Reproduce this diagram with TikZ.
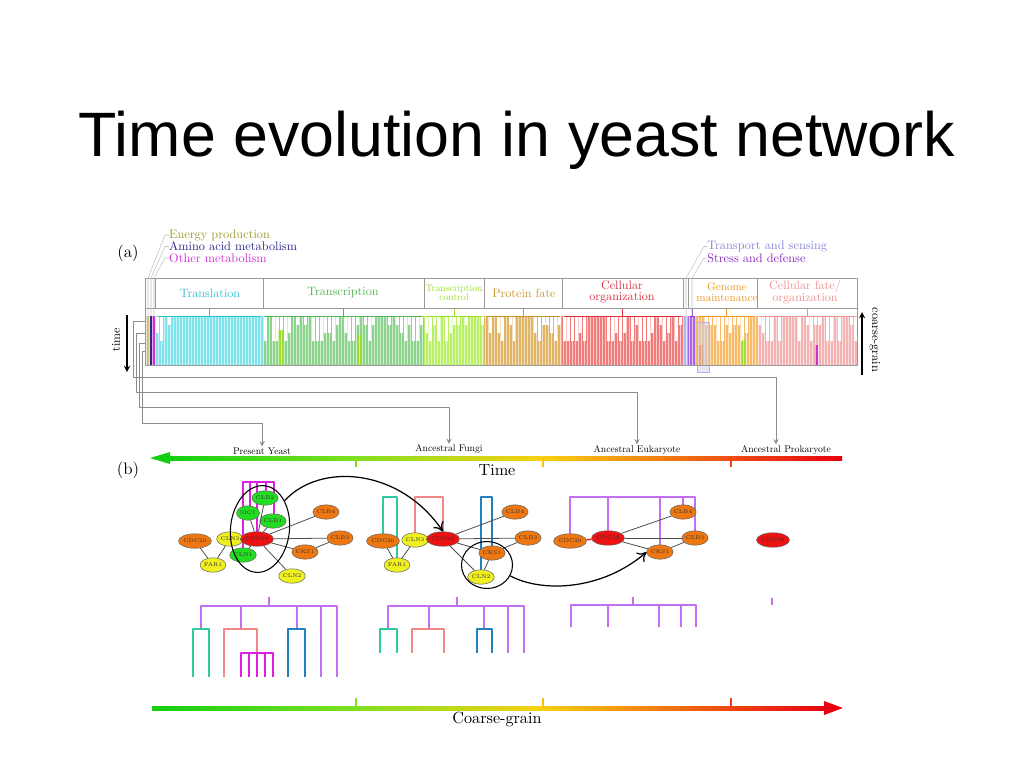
\documentclass[tikz,border=0pt]{standalone}
\usepackage{fontspec}
\newfontfamily\titlefont{Liberation Sans}
\usetikzlibrary{shapes.geometric,arrows.meta}
% category colours
\definecolor{cEnergy}{HTML}{A09830}
\definecolor{cAmino}{HTML}{282888}
\definecolor{cOther}{HTML}{D030D0}
\definecolor{cTransl}{HTML}{30C0D0}
\definecolor{cTranscr}{HTML}{50B450}
\definecolor{cTcontrol}{HTML}{98DC30}
\definecolor{cPfate}{HTML}{C89830}
\definecolor{cCellorg}{HTML}{D83040}
\definecolor{cGenome}{HTML}{EC9820}
\definecolor{cCellfate}{HTML}{EC9090}
\definecolor{cTransport}{HTML}{8484DC}
\definecolor{cStress}{HTML}{8828C0}
% bar colours
\definecolor{bEnergy}{HTML}{D0C080}
\definecolor{bTransl}{HTML}{80E4EC}
\definecolor{bTranscr}{HTML}{8CD48C}
\definecolor{bTcontrol}{HTML}{B8F064}
\definecolor{bPfate}{HTML}{E0B464}
\definecolor{bCellorg}{HTML}{F27C7C}
\definecolor{bGenome}{HTML}{F8BC68}
\definecolor{bCellfate}{HTML}{F4B4B4}
\definecolor{bTransport}{HTML}{B0B8F4}
\definecolor{bStress}{HTML}{A868E8}
% network and tree colours
\definecolor{nGreen}{HTML}{22DD22}
\definecolor{nRed}{HTML}{EE1111}
\definecolor{nOrange}{HTML}{EE7711}
\definecolor{nYellow}{HTML}{F0F020}
\definecolor{dPurple}{HTML}{C070F0}
\definecolor{dTeal}{HTML}{30C8A0}
\definecolor{dPink}{HTML}{F08888}
\definecolor{dBlue}{HTML}{2080C0}
\definecolor{dMagenta}{HTML}{E020E0}
% axis colours
\definecolor{aGreen}{HTML}{10D010}
\definecolor{aLime}{HTML}{80E020}
\definecolor{aYellow}{HTML}{F8D010}
\definecolor{aOrange}{HTML}{F08020}
\definecolor{aRed}{HTML}{E80010}
\tikzset{
  gene/.style={ellipse,draw=black!60,line width=0.3pt,inner sep=0pt,minimum width=0.46cm,minimum height=0.29cm,font=\fontsize{3.1}{3.1}\selectfont,text=black!80},
  grn/.style={gene,fill=nGreen},
  redn/.style={gene,fill=nRed},
  orn/.style={gene,fill=nOrange},
  yel/.style={gene,fill=nYellow},
  link/.style={draw=black!70,line width=0.45pt},
  cut/.style={draw=black!45,line width=0.35pt},
  lead/.style={draw=black!25,line width=0.3pt},
  frame/.style={draw=black!40,line width=0.35pt},
  dend/.style={line width=0.8pt},
  tickmark/.style={line width=1.3pt},
  catlab/.style={font=\fontsize{10}{11}\selectfont,scale=0.7,anchor=west,inner sep=0pt},
  hdr/.style={font=\fontsize{10}{9.5}\selectfont,scale=0.69,align=center,inner sep=0pt},
  lab/.style={font=\fontsize{10}{11}\selectfont,scale=0.55,inner sep=1pt},
  big/.style={font=\fontsize{10}{11}\selectfont,scale=0.95}
}
\begin{document}
\begin{tikzpicture}[x=0.02cm,y=-0.02cm,line join=round,>=stealth]
\useasboundingbox (0,0) rectangle (1024,768);
\node[font=\titlefont\fontsize{35.7}{40}\selectfont,anchor=base] (title) at (517,156) {Time evolution in yeast network};

%% (a) tree of functional classes
\node[big] (pa) at (128,253) {(a)};
\node[catlab,text=cEnergy] (energy) at (169,235) {Energy production};
\node[catlab,text=cAmino] (amino) at (169,246.5) {Amino acid metabolism};
\node[catlab,text=cOther] (other) at (169,258) {Other metabolism};
\node[catlab,text=cTransport] (transp) at (707,246.5) {Transport and sensing};
\node[catlab,text=cStress] (stress) at (707,258) {Stress and defense};

\pgfmathsetseed{12}
\foreach \xa/\xb/\c/\g in {145/150/bEnergy/0,150/152/cAmino/0,152/155/cOther/0,155/178/bTransl/1,178/263/bTransl/0,
  263/424/bTranscr/1,424/484/bTcontrol/1,484/515/bPfate/1,515/533/bPfate/0,533/562/bPfate/1,562/683/bCellorg/1,
  683/688/bTransport/0,688/696/bStress/0,696/757/bGenome/1,757/857/bCellfate/1}{
  \fill[\c] (\xa,316) rectangle (\xb,365);
  \ifnum\g>0
    \pgfmathtruncatemacro\xn{\xa+4}
    \foreach \x in {\xa,\xn,...,\xb}{
      \pgfmathsetmacro\h{rnd<0.3 ? 0 : 8+int(rnd*3)*8}
      \fill[white] ({\x+1},317) rectangle ({min(\x+4,\xb)},{317+\h});
    }
  \fi
}
% a few odd columns
\fill[cTcontrol] (278,330) rectangle (283,365) (357,335) rectangle (362,365) (742,340) rectangle (745,365);
\fill[aOrange] (699,345) rectangle (703,365);
\fill[cOther] (815,345) rectangle (818,365);
\foreach \x in {146,149,...,856} \draw[white,opacity=0.6,line width=0.12pt] (\x,316) -- (\x,365);
\foreach \xa/\xb/\c in {155/263/cTransl,263/424/cTranscr,424/484/cTcontrol,484/562/cPfate,562/683/cCellorg,
  688/696/cStress,696/757/cGenome,757/857/cCellfate}{
  \draw[\c,line width=0.5pt] ({\xa+2},316) -- ({\xb-2},316);
  \draw[\c,line width=0.5pt] ({(\xa+\xb)/2},308) -- ({(\xa+\xb)/2},316);
}
\fill[cTransport!40,opacity=0.5] (697,322) rectangle (709,372);
\draw[cTransport!60,line width=0.3pt] (697,322) rectangle (709,372);

\draw[frame] (145,278) rectangle (857,365);
\draw[frame] (145,308) -- (857,308);
\foreach \x in {155,263,424,484,562,683,688,757} \draw[frame] (\x,278) -- (\x,308);

\node[hdr,text=cTransl] (hTransl) at (210,293) {Translation};
\node[hdr,text=cTranscr] (hTranscr) at (343,293) {Transcription};
\node[hdr,text=cTcontrol,scale=0.8] (hTcontrol) at (454,292.5) {Transcription\\control};
\node[hdr,text=cPfate] (hPfate) at (524,293) {Protein fate};
\node[hdr,text=cCellorg] (hCellorg) at (622,292) {Cellular\\organization};
\node[hdr,text=cGenome,scale=0.92] (hGenome) at (727,292) {Genome\\maintenance};
\node[hdr,text=cCellfate] (hCellfate) at (805,292) {Cellular fate/\\organization};

\draw[lead] (energy.west) -- ++(-4,0) -- (148,278) -- (148,316);
\draw[lead] (amino.west) -- ++(-4,0) -- (151,278) -- (151,316);
\draw[lead] (other.west) -- ++(-4,0) -- (154,278) -- (154,316);
\draw[lead] (transp.west) -- ++(-3,0) -- (686,278) -- (686,316);
\draw[lead] (stress.west) -- ++(-3,0) -- (692,278) -- (692,316);

\node[rotate=90,font=\fontsize{10}{11}\selectfont,scale=0.68] (timelab) at (116,340) {time};
\coordinate (tt) at (127,315);
\coordinate (tb) at (127,372);
\draw[->,line width=0.6pt] (tt) -- (tb);
\node[rotate=-90,font=\fontsize{10}{11}\selectfont,scale=0.7] (cglab) at (875,340) {coarse-grain};
\coordinate (cb) at (862,375);
\coordinate (ct) at (862,312);
\draw[->,line width=0.6pt] (cb) -- (ct);

%% (b) time axis
\node[big] (pb) at (128,470) {(b)};
\node[lab] (pyeast) at (262,451) {Present Yeast};
\node[lab] (afungi) at (449,449.5) {Ancestral Fungi};
\node[lab] (aeuk) at (637,450) {Ancestral Eukaryote};
\node[lab] (aprok) at (786,450) {Ancestral Prokaryote};
\coordinate (tP) at (145,321);
\coordinate (tE) at (145,333);
\coordinate (tF) at (145,343);
\coordinate (tY) at (145,351);
\draw[cut,->] (tP) -| (133,377) -| ([xshift=-0.2cm]aprok.north);
\draw[cut,->] (tE) -| (136,392) -| (aeuk.north);
\draw[cut,->] (tF) -| (139,407) -| (afungi.north);
\draw[cut,->] (tY) -| (142,423) -| (pyeast.north);

\shade[left color=aGreen,right color=aLime] (168,456) rectangle (356,460);
\shade[left color=aLime,right color=aYellow] (356,456) rectangle (543,460);
\shade[left color=aYellow,right color=aRed] (543,456) rectangle (842,460);
\fill[aGreen] (150,458) -- (170,452) -- (170,464) -- cycle;
\draw[tickmark,aLime] (356,458) -- (356,467);
\draw[tickmark,aYellow!80!orange] (543,458) -- (543,467);
\draw[tickmark,aOrange!50!red] (731,458) -- (731,467);
\node[font=\fontsize{10}{11}\selectfont,scale=0.92] (timeax) at (497,470) {Time};

%% networks: brackets first
\draw[dend,dMagenta] (243,555) |- (274,482) -- (274,521);
\foreach \x/\y in {250/513,257/539,266/498} \draw[dend,dMagenta] (\x,482) -- (\x,\y);
\draw[dend,dTeal] (383,541) |- (397,497) -- (397,565);
\draw[dend,dPink] (415,540) |- (443,497) -- (443,539);
\draw[dend,dBlue] (481,577) |- (492,497) -- (492,553);
\draw[dend,dPurple] (570,541) |- (695,497) -- (695,538);
\foreach \x/\y in {608/538,660/552,683/512} \draw[dend,dPurple] (\x,497) -- (\x,\y);

% present yeast
\node[orn] (y20) at (195,541) {CDC20};
\node[yel] (yfar) at (213,565) {FAR1};
\node[yel] (y3) at (230,539) {CLN3};
\node[grn] (yn1) at (243,555) {CLN1};
\node[grn] (ysic) at (248,513) {SIC1};
\node[grn] (yb2) at (265,498) {CLB2};
\node[grn] (yb1) at (273,521) {CLB1};
\node[redn] (y28) at (257,539) {CDC28};
\node[orn] (yb4) at (326,512) {CLB4};
\node[orn] (yb3) at (340,538) {CLB3};
\node[orn] (ycks) at (305,552) {CKS1};
\node[yel] (yn2) at (292,576) {CLN2};
\foreach \a/\b in {y20/yfar,yfar/y3,y3/y28,y28/yb4,y28/yb3,y28/ycks,y28/yn2,ycks/yb3,y28/yb1,y28/ysic,y28/yb2,y28/yn1}
  \draw[link] (\a) -- (\b);
\node[ellipse,draw,line width=0.6pt,minimum width=1.18cm,minimum height=1.74cm,rotate=-6] (grp1) at (260,529) {};

% ancestral fungi
\node[orn] (f20) at (383,541) {CDC20};
\node[yel] (ffar) at (397,565) {FAR1};
\node[yel] (f3) at (415,540) {CLN3};
\node[redn] (f28) at (443,539) {CDC28};
\node[orn] (fb4) at (515,512) {CLB4};
\node[orn] (fb3) at (528,538) {CLB3};
\node[orn] (fcks) at (492,553) {CKS1};
\node[yel] (fn2) at (481,577) {CLN2};
\foreach \a/\b in {f20/ffar,ffar/f3,f3/f28,f28/fb4,f28/fb3,f28/fcks,f28/fn2,fcks/fn2,fcks/fb3}
  \draw[link] (\a) -- (\b);
\node[ellipse,draw,line width=0.6pt,minimum width=1.02cm,minimum height=0.94cm] (grp2) at (487,565) {};

% ancestral eukaryote
\node[orn] (e20) at (570,541) {CDC20};
\node[redn] (e28) at (608,538) {CDC28};
\node[orn] (eb4) at (683,512) {CLB4};
\node[orn] (eb3) at (695,538) {CLB3};
\node[orn] (ecks) at (660,552) {CKS1};
\draw[link,draw=nRed,line width=0.8pt] (e20) -- (e28);
\foreach \a/\b in {e28/eb4,e28/eb3,e28/ecks,ecks/eb3}
  \draw[link] (\a) -- (\b);

% ancestral prokaryote
\node[redn] (p28) at (773,540) {CDC28};

\draw[line width=0.7pt,-{To[length=5pt,width=7pt]}] (grp1.55) .. controls (320,462) and (400,468) .. (f28.north);
\draw[line width=0.7pt,-{To[length=5pt,width=7pt]}] (grp2.-25) .. controls (540,592) and (600,592) .. (ecks.west);

%% coarse-grained trees
\draw[dend,dPurple] (269,597) -- (269,606);
\draw[dend,dPurple] (201,629) |- (337,606) -- (337,677);
\draw[dend,dPurple] (241,606) -- (241,629) (297,606) -- (297,629) (321,606) -- (321,677);
\draw[dend,dTeal] (193,677) |- (209,629) -- (209,677);
\draw[dend,dPink] (224,677) |- (257,629) -- (257,653);
\draw[dend,dMagenta] (241,677) |- (273,653) -- (273,677);
\foreach \x in {249,257,265} \draw[dend,dMagenta] (\x,653) -- (\x,677);
\draw[dend,dBlue] (288,677) |- (305,629) -- (305,677);

\draw[dend,dPurple] (457,597) -- (457,606);
\draw[dend,dPurple] (388,629) |- (524,606) -- (524,653);
\draw[dend,dPurple] (429,606) -- (429,629) (484,606) -- (484,629) (508,606) -- (508,653);
\draw[dend,dTeal] (380,653) |- (397,629) -- (397,653);
\draw[dend,dPink] (412,653) |- (444,629) -- (444,653);
\draw[dend,dBlue] (477,653) |- (492,629) -- (492,653);

\draw[dend,dPurple] (633,597) -- (633,605);
\draw[dend,dPurple] (571,627) |- (696,605) -- (696,627);
\foreach \x in {608,659,681} \draw[dend,dPurple] (\x,605) -- (\x,627);
\draw[dend,dPurple] (772,598) -- (772,605);

%% coarse-grain axis
\shade[left color=aGreen,right color=aLime] (152,706) rectangle (356,710);
\shade[left color=aLime,right color=aYellow] (356,706) rectangle (543,710);
\shade[left color=aYellow,right color=aRed] (543,706) rectangle (826,710);
\fill[aRed] (843,708) -- (824,701) -- (824,715) -- cycle;
\draw[tickmark,aLime] (356,698) -- (356,708);
\draw[tickmark,aYellow!80!orange] (543,698) -- (543,708);
\draw[tickmark,aOrange!50!red] (731,698) -- (731,708);
\node[font=\fontsize{10}{11}\selectfont,scale=0.92] (cgax) at (497,719) {Coarse-grain};
\end{tikzpicture}
\end{document}
